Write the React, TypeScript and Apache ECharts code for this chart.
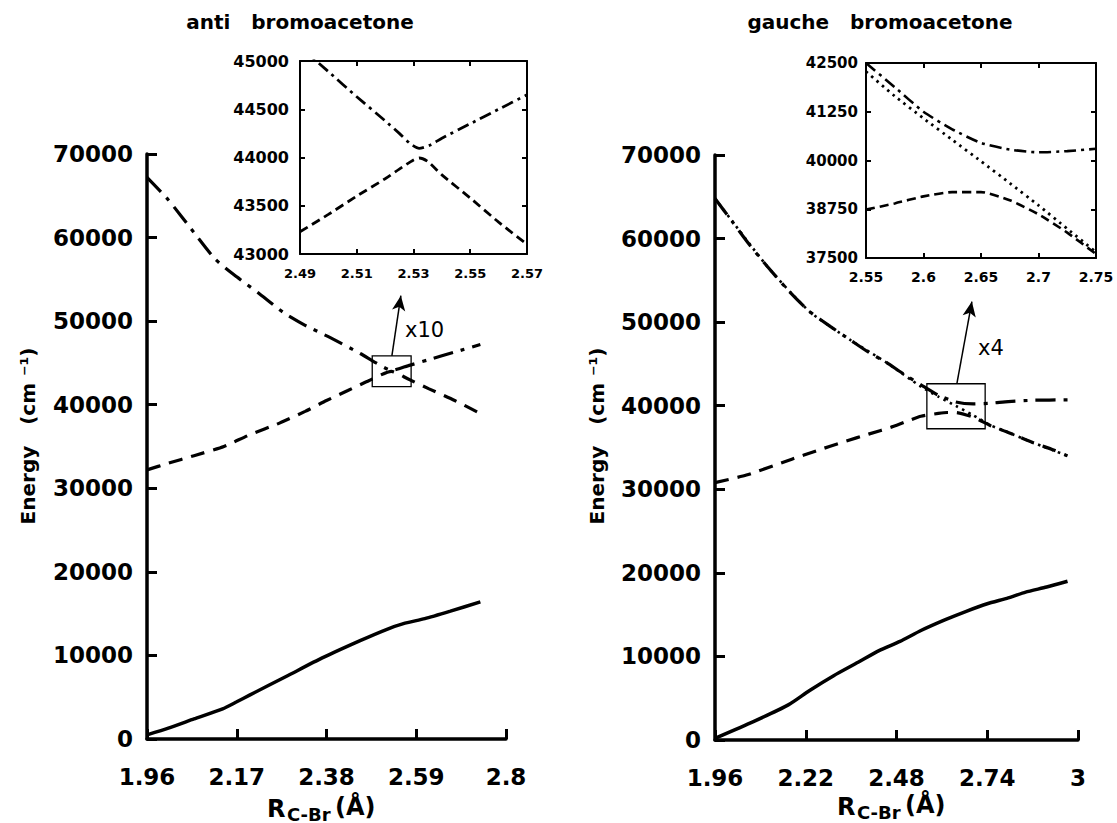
import React, { useEffect, useRef } from "react";
import * as echarts from "echarts";

const FONT = "DejaVu Sans";

// ---------- anti bromoacetone (main) ----------
const antiSolidX = [1.96, 2.01, 2.07, 2.137, 2.17, 2.2, 2.29, 2.37, 2.46, 2.52, 2.56, 2.61, 2.67, 2.74];
const antiSolidY = [500, 1300, 2400, 3600, 4450, 5250, 7600, 9700, 11800, 13100, 13800, 14400, 15300, 16400];
const antiDashX = [1.96, 2.01, 2.07, 2.14, 2.2, 2.27, 2.33, 2.38, 2.43, 2.48, 2.532, 2.57, 2.62, 2.68, 2.74];
const antiDashY = [32200, 33000, 33900, 35000, 36400, 37800, 39200, 40500, 41700, 42900, 44000, 43100, 41900, 40500, 38950];
const antiDashDotX = [1.96, 2.01, 2.07, 2.12, 2.17, 2.22, 2.28, 2.33, 2.39, 2.46, 2.496, 2.532, 2.57, 2.62, 2.68, 2.74];
const antiDashDotY = [67200, 64500, 60600, 57400, 55300, 53400, 51000, 49500, 48000, 46100, 45000, 44100, 44650, 45400, 46300, 47200];
const antiBox = [[2.487, 45850], [2.578, 42170]];
const antiArrow = [[2.533, 45850], [2.554, 53050]];

// ---------- anti inset (x10) ----------
const antiInDashX = [2.49, 2.5, 2.51, 2.52, 2.525, 2.53, 2.532, 2.535, 2.54, 2.55, 2.56, 2.57];
const antiInDashY = [43230, 43410, 43600, 43780, 43880, 43975, 43995, 43960, 43820, 43580, 43330, 43100];
const antiInDashDotX = [2.49, 2.5, 2.51, 2.52, 2.525, 2.529, 2.532, 2.536, 2.54, 2.55, 2.56, 2.57];
const antiInDashDotY = [45150, 44890, 44630, 44380, 44250, 44140, 44095, 44130, 44200, 44350, 44500, 44650];

// ---------- gauche bromoacetone (main) ----------
const gauSolidX = [1.96, 2.07, 2.17, 2.23, 2.3, 2.37, 2.43, 2.49, 2.55, 2.62, 2.68, 2.74, 2.8, 2.85, 2.91, 2.97];
const gauSolidY = [200, 2200, 4200, 5900, 7700, 9300, 10700, 11800, 13100, 14400, 15400, 16300, 17000, 17700, 18300, 19000];
const gauDashX = [1.96, 2.05, 2.18, 2.25, 2.33, 2.4, 2.47, 2.52, 2.55, 2.6, 2.625, 2.65, 2.7, 2.75, 2.8, 2.87, 2.93, 2.97];
const gauDashY = [30800, 31700, 33600, 34600, 35700, 36600, 37500, 38300, 38740, 39080, 39190, 39190, 38620, 37600, 36800, 35600, 34700, 34000];
const gauDashDotX = [1.96, 2.01, 2.06, 2.11, 2.17, 2.23, 2.29, 2.35, 2.4, 2.45, 2.5, 2.55, 2.6, 2.65, 2.7, 2.75, 2.8, 2.87, 2.97];
const gauDashDotY = [64800, 62000, 59200, 56650, 53800, 51300, 49500, 47800, 46400, 45200, 43800, 42500, 41250, 40450, 40210, 40300, 40500, 40650, 40700];
const gauDotX = [1.96, 2.11, 2.23, 2.35, 2.45, 2.55, 2.6, 2.65, 2.7, 2.75, 2.8, 2.87, 2.97];
const gauDotY = [64800, 56650, 51300, 47800, 45200, 42280, 41080, 39980, 38850, 37650, 36800, 35600, 34000];
const gauBox = [[2.567, 42630], [2.734, 37245]];
const gauArrow = [[2.653, 42630], [2.696, 52460]];

// ---------- gauche inset (x4) ----------
const gauInX = [2.55, 2.575, 2.6, 2.625, 2.65, 2.675, 2.7, 2.725, 2.75];
const gauInDashDotY = [42500, 41880, 41250, 40800, 40450, 40280, 40210, 40240, 40300];
const gauInDotY = [42280, 41650, 41080, 40530, 39980, 39420, 38850, 38250, 37650];
const gauInDashY = [38740, 38900, 39080, 39190, 39190, 38980, 38620, 38150, 37600];

// ---------- axis ticks ----------
const mainYTicks = { min: 0, max: 70000, interval: 10000 };
const antiXTicks = { min: 1.96, max: 2.8, interval: 0.21 };
const gauXTicks = { min: 1.96, max: 3, interval: 0.26 };
const antiInX = { min: 2.49, max: 2.57, interval: 0.02 };
const antiInY = { min: 43000, max: 45000, interval: 500 };
const gauInXT = { min: 2.55, max: 2.75, interval: 0.05 };
const gauInYT = { min: 37500, max: 42500, interval: 1250 };

const zip = (xs: number[], ys: number[]) => xs.map((x, i) => [x, ys[i]]);
const fmt = (v: number) => String(parseFloat(Number(v).toFixed(3)));

const DASH = [14, 9];
const DASHDOT = [20, 8, 4, 8];
const IN_DASH = [9, 5];
const IN_DASHDOT = [12, 5, 3, 5];
const DOT = [2.5, 4.5];

function lineSeries(xi: number, yi: number, data: number[][], type: any, width: number, extra: any = {}) {
  return {
    type: "line",
    xAxisIndex: xi,
    yAxisIndex: yi,
    data,
    showSymbol: false,
    symbol: "none",
    smooth: 0.2,
    silent: true,
    lineStyle: { color: "#000", width, type, cap: "butt" },
    ...extra,
  };
}

function boxAndArrow(box: number[][], arrow: number[][]) {
  return {
    markArea: {
      silent: true,
      itemStyle: { color: "rgba(0,0,0,0)", borderColor: "#000", borderWidth: 1.3 },
      label: { show: false },
      data: [[{ coord: box[0] }, { coord: box[1] }]],
    },
    markLine: {
      silent: true,
      symbol: ["none", "arrow"],
      symbolSize: [10, 15],
      label: { show: false },
      lineStyle: { color: "#000", width: 1.5, type: "solid" },
      data: [[{ coord: arrow[0] }, { coord: arrow[1] }]],
    },
  };
}

const bold = { fontFamily: FONT, fontWeight: "bold", color: "#000" };

function mainX(grid: number, t: any) {
  return {
    gridIndex: grid,
    type: "value",
    ...t,
    axisLine: { show: true, onZero: false, lineStyle: { color: "#000", width: 3.5 } },
    axisTick: { show: true, inside: true, length: 10, lineStyle: { color: "#000", width: 3 } },
    axisLabel: { ...bold, fontSize: 23, margin: 26, formatter: fmt },
    splitLine: { show: false },
  };
}
function mainY(grid: number) {
  return {
    gridIndex: grid,
    type: "value",
    ...mainYTicks,
    axisLine: { show: true, onZero: false, lineStyle: { color: "#000", width: 3.5 } },
    axisTick: { show: true, inside: true, length: 10, lineStyle: { color: "#000", width: 3 } },
    axisLabel: { ...bold, fontSize: 23, margin: 14, formatter: (v: number) => String(v) },
    splitLine: { show: false },
  };
}
function insetAxis(grid: number, t: any, position: string, labels: boolean, fontSize: number, margin: number) {
  return {
    gridIndex: grid,
    type: "value",
    position,
    ...t,
    axisLine: { show: true, onZero: false, lineStyle: { color: "#000", width: 2 } },
    axisTick: { show: true, inside: true, length: 5, lineStyle: { color: "#000", width: 2 } },
    axisLabel: { show: labels, ...bold, fontSize, margin, formatter: fmt },
    splitLine: { show: false },
  };
}

function txt(x: number, y: number, text: string, size: number, weight: string, extra: any = {}) {
  return {
    type: "text",
    x,
    y,
    silent: true,
    ...extra,
    style: {
      text,
      fill: "#000",
      fontSize: size,
      fontWeight: weight,
      fontFamily: FONT,
      align: extra.align || "center",
      verticalAlign: "middle",
    },
  };
}

export default function App() {
  const ref = useRef<HTMLDivElement>(null);
  useEffect(() => {
    if (!ref.current) return;
    const chart = echarts.init(ref.current, null, { renderer: "svg" });
    const option: any = {
      animation: false,
      backgroundColor: "#fff",
      grid: [
        { left: 147, top: 154, width: 359, height: 585 },
        { left: 715, top: 155, width: 363, height: 585 },
        { left: 300, top: 61, width: 227, height: 193 },
        { left: 866, top: 63, width: 230, height: 195 },
      ],
      xAxis: [
        mainX(0, antiXTicks),
        mainX(1, gauXTicks),
        insetAxis(2, antiInX, "bottom", true, 13, 13),
        insetAxis(2, antiInX, "top", false, 13, 8),
        insetAxis(3, gauInXT, "bottom", true, 14, 12),
        insetAxis(3, gauInXT, "top", false, 14, 8),
      ],
      yAxis: [
        mainY(0),
        mainY(1),
        insetAxis(2, antiInY, "left", true, 16, 11),
        insetAxis(2, antiInY, "right", false, 16, 8),
        insetAxis(3, gauInYT, "left", true, 15, 8),
        insetAxis(3, gauInYT, "right", false, 15, 8),
      ],
      series: [
        lineSeries(0, 0, zip(antiSolidX, antiSolidY), "solid", 3.5, boxAndArrow(antiBox, antiArrow)),
        lineSeries(0, 0, zip(antiDashX, antiDashY), DASH, 3.2),
        lineSeries(0, 0, zip(antiDashDotX, antiDashDotY), DASHDOT, 3.2),
        lineSeries(2, 2, zip(antiInDashX, antiInDashY), IN_DASH, 2.8),
        lineSeries(2, 2, zip(antiInDashDotX, antiInDashDotY), IN_DASHDOT, 2.8),
        lineSeries(1, 1, zip(gauSolidX, gauSolidY), "solid", 3.5, boxAndArrow(gauBox, gauArrow)),
        lineSeries(1, 1, zip(gauDashX, gauDashY), DASH, 3.2),
        lineSeries(1, 1, zip(gauDashDotX, gauDashDotY), DASHDOT, 3.2),
        lineSeries(1, 1, zip(gauDotX, gauDotY), DOT, 2.6),
        lineSeries(4, 4, zip(gauInX, gauInDashDotY), IN_DASHDOT, 2.6),
        lineSeries(4, 4, zip(gauInX, gauInDotY), DOT, 2.8),
        lineSeries(4, 4, zip(gauInX, gauInDashY), IN_DASH, 2.6),
      ],
      graphic: [
        txt(300, 22, "anti   bromoacetone", 20, "bold"),
        txt(880, 22, "gauche   bromoacetone", 20, "bold"),
        txt(28, 436, "Energy   (cm ⁻¹)", 20, "bold", { rotation: Math.PI / 2 }),
        txt(597, 436, "Energy   (cm ⁻¹)", 20, "bold", { rotation: Math.PI / 2 }),
        txt(267, 809, "R", 24, "bold", { align: "left" }),
        txt(287, 814, "C-Br", 18, "bold", { align: "left" }),
        txt(335, 807, "(Å)", 24, "bold", { align: "left" }),
        txt(837, 807, "R", 24, "bold", { align: "left" }),
        txt(857, 812, "C-Br", 18, "bold", { align: "left" }),
        txt(905, 805, "(Å)", 24, "bold", { align: "left" }),
        txt(405, 330, "x10", 21, "normal", { align: "left" }),
        txt(978, 348, "x4", 21, "normal", { align: "left" }),
      ],
    };
    chart.setOption(option);
    return () => chart.dispose();
  }, []);
  return (
    <div
      ref={ref}
      style={{ position: "absolute", left: 0, top: 0, width: 1117, height: 823, background: "#fff" }}
    />
  );
}
